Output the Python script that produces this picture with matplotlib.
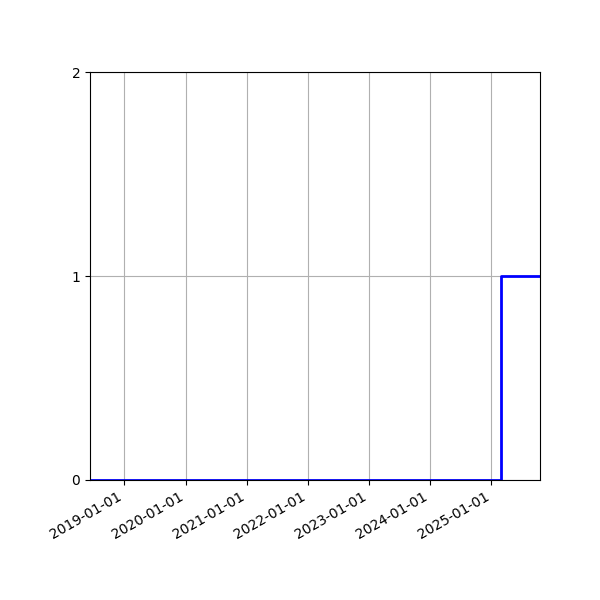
import matplotlib
matplotlib.use("Agg")
import matplotlib.pyplot as plt
import matplotlib.dates as mdates
from datetime import datetime

dates = [datetime(2018, 6, 9), datetime(2025, 2, 28), datetime(2025, 10, 19)]
values = [0, 1, 1]
yticks = [0, 1, 2]

fig, ax = plt.subplots(figsize=(6, 6), dpi=100)
ax.step(dates, values, where="post", color="blue", linewidth=2)
ax.set_xlim(dates[0], dates[-1])
ax.set_ylim(0, 2)
ax.set_yticks(yticks)
ax.xaxis.set_major_locator(mdates.YearLocator())
ax.xaxis.set_major_formatter(mdates.DateFormatter("%Y-%m-%d"))
ax.grid(True)
fig.autofmt_xdate()
fig.subplots_adjust(left=0.15, right=0.9, top=0.88, bottom=0.2)
fig.savefig("out.png")
